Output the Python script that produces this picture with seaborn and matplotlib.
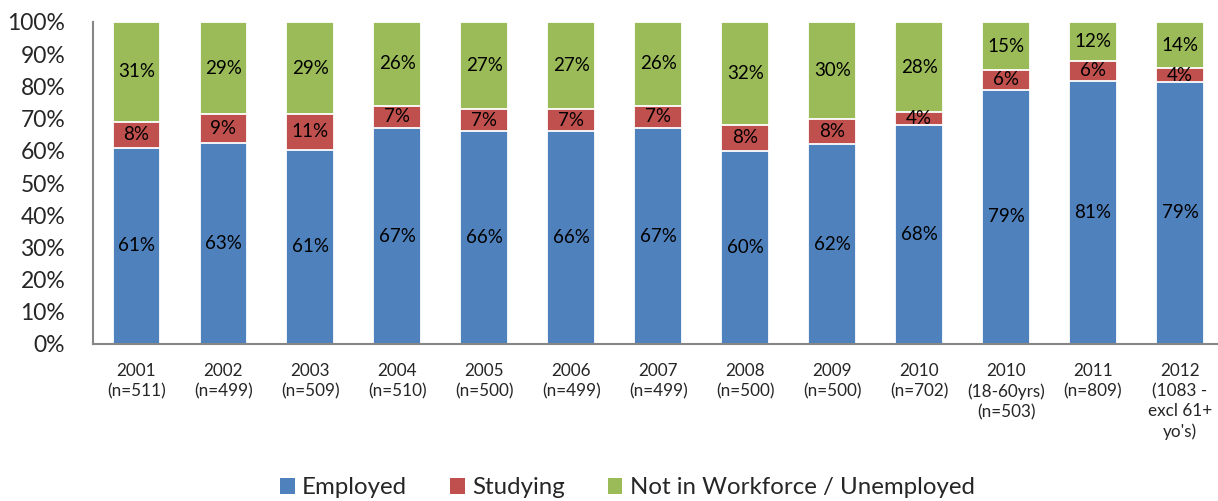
import numpy as np
import matplotlib
matplotlib.use("Agg")
import matplotlib.pyplot as plt
import seaborn as sns
from matplotlib.patches import Patch

# Survey outcome shares by year (labels as published, in percent)
categories = [
    "2001\n(n=511)", "2002\n(n=499)", "2003\n(n=509)", "2004\n(n=510)",
    "2005\n(n=500)", "2006\n(n=499)", "2007\n(n=499)", "2008\n(n=500)",
    "2009\n(n=500)", "2010\n(n=702)", "2010\n(18-60yrs)\n(n=503)",
    "2011\n(n=809)", "2012\n(1083 -\nexcl 61+\nyo's)",
]
employed = [61, 63, 61, 67, 66, 66, 67, 60, 62, 68, 79, 81, 79]
studying = [8, 9, 11, 7, 7, 7, 7, 8, 8, 4, 6, 6, 4]
not_in_workforce = [31, 29, 29, 26, 27, 27, 26, 32, 30, 28, 15, 12, 14]

series_names = ["Employed", "Studying", "Not in Workforce / Unemployed"]
series_colors = ["#4F81BD", "#C0504D", "#9BBB59"]
y_ticks = list(range(0, 101, 10))

sns.set_theme(style="white")
plt.rcParams["font.family"] = ["Lato", "DejaVu Sans"]

# 100% stacked: normalise each column to its total
vals = np.array([employed, studying, not_in_workforce], dtype=float)
shares = vals / vals.sum(axis=0) * 100
cum = np.cumsum(shares, axis=0)

fig = plt.figure(figsize=(12.18, 5.01), dpi=100)
ax = fig.add_axes([93 / 1218, 1 - 344 / 501, (1223.5 - 93) / 1218, (344 - 22) / 501])

# Draw cumulative totals from the top layer down so each band shows through
for i in range(2, -1, -1):
    sns.barplot(x=categories, y=cum[i], color=series_colors[i], width=0.55,
                edgecolor="white", linewidth=1.3, saturation=1, ax=ax, zorder=2)

# Segment labels centred in each band
for i in range(3):
    base = cum[i] - shares[i]
    for j, cat in enumerate(categories):
        ax.text(j, base[j] + shares[i][j] / 2, f"{int(vals[i][j])}%",
                ha="center", va="center", fontsize=13.5, color="black", zorder=5)

ax.set_xlim(-0.5, len(categories) - 0.5)
ax.set_ylim(0, 100)
ax.set_yticks(y_ticks)
ax.set_yticklabels([f"{t}%" for t in y_ticks], fontsize=16.5)
ax.tick_params(axis="y", length=0, pad=20)
ax.tick_params(axis="x", length=0, pad=14, labelsize=12.3)
for lbl in ax.get_xticklabels():
    lbl.set_linespacing(1.3)
ax.set_xlabel("")
ax.set_ylabel("")

for side in ["top", "right"]:
    ax.spines[side].set_visible(False)
for side in ["left", "bottom"]:
    ax.spines[side].set_color("#868686")
    ax.spines[side].set_linewidth(1.5)
    ax.spines[side].set_zorder(6)

handles = [Patch(facecolor=c, edgecolor="none") for c in series_colors]
fig.legend(handles, series_names, loc="center", bbox_to_anchor=(627.5 / 1218, 1 - 488 / 501),
           ncol=3, frameon=False, fontsize=17.3, handlelength=0.6, handleheight=0.6,
           handletextpad=0.3, columnspacing=1.8)

fig.savefig("out.png", dpi=100)
